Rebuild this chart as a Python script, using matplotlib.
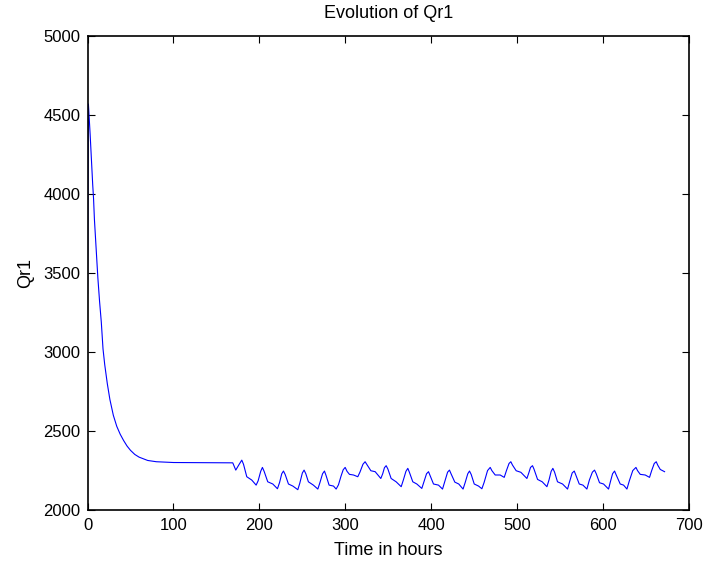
import numpy as np
import matplotlib
matplotlib.use('Agg')
import matplotlib.pyplot as plt

plt.rcParams['font.family'] = ['Liberation Sans', 'DejaVu Sans']

# start-up transient (first week)
t_start = [0, 1, 2, 3, 4, 5, 6, 7, 8, 10, 12, 14, 16, 18, 20, 23, 26, 30, 34, 38,
           42, 46, 50, 55, 60, 70, 80, 100, 130, 169]
q_start = [3370, 4570, 4480, 4380, 4270, 4160, 4060, 3970, 3840, 3650, 3470, 3320,
           3190, 3020, 2920, 2800, 2700, 2600, 2530, 2480, 2440, 2405, 2378, 2352,
           2335, 2314, 2306, 2301, 2300, 2299]

# daily oscillations (weeks 2 to 4)
t_osc = [172.5, 176.5, 179.5, 181.5, 185.3, 191.1, 196.2, 198.5, 201.5, 203.5, 205.5,
         209.7, 215.6, 221.0, 223.5, 226.0, 228.0, 230.0, 233.8, 238.9, 244.7, 247.0,
         250.0, 252.0, 254.0, 257.0, 262.8, 268.0, 270.5, 273.5, 275.7, 277.5, 281.1,
         286.2, 289.3, 292.0, 295.0, 297.5, 299.8, 302.0, 304.8, 309.5, 314.5, 317.0,
         320.5, 323.0, 325.5, 329.7, 334.7, 341.3, 343.5, 345.5, 347.5, 349.5, 353.3,
         359.1, 365.0, 367.5, 370.5, 372.7, 374.5, 378.5, 383.2, 389.0, 391.5, 394.5,
         396.8, 398.5, 402.6, 408.4, 413.1, 416.0, 419.0, 421.2, 423.0, 427.4, 432.0,
         437.0, 439.5, 442.5, 444.5, 446.5, 450.0, 455.0, 458.9, 461.5, 465.5, 468.6,
         470.5, 474.4, 480.2, 484.9, 487.5, 490.5, 492.6, 494.5, 498.8, 504.3, 511.3,
         513.5, 515.5, 517.8, 519.5, 523.7, 529.1, 534.6, 537.0, 539.5, 541.5, 543.5,
         546.9, 552.8, 558.6, 561.0, 564.0, 566.4, 568.0, 572.2, 576.5, 581.1, 584.0,
         587.5, 590.0, 592.0, 595.8, 600.5, 606.3, 608.5, 611.0, 613.3, 615.0, 619.9,
         623.8, 627.7, 630.5, 634.5, 638.2, 640.0, 643.2, 649.0, 654.0, 656.5, 659.5,
         661.8, 663.5, 666.5, 671.5]
q_osc = [2253, 2290, 2316, 2290, 2211, 2190, 2158, 2185, 2245, 2270, 2245,
         2179, 2165, 2135, 2175, 2230, 2247, 2225, 2165, 2152, 2129, 2170,
         2235, 2253, 2230, 2179, 2158, 2133, 2175, 2230, 2247, 2220, 2158,
         2152, 2133, 2160, 2215, 2255, 2270, 2245, 2226, 2222, 2211, 2240,
         2290, 2306, 2285, 2249, 2243, 2200, 2230, 2268, 2281, 2260, 2200,
         2179, 2148, 2190, 2245, 2264, 2240, 2179, 2165, 2137, 2180, 2230,
         2243, 2220, 2165, 2158, 2133, 2185, 2240, 2253, 2230, 2177, 2165,
         2133, 2175, 2230, 2247, 2225, 2165, 2152, 2135, 2175, 2250, 2270,
         2250, 2222, 2222, 2207, 2250, 2295, 2306, 2285, 2249, 2239, 2200,
         2235, 2270, 2281, 2260, 2194, 2179, 2148, 2190, 2245, 2264, 2240,
         2179, 2165, 2133, 2180, 2235, 2247, 2225, 2165, 2158, 2133, 2190,
         2240, 2253, 2230, 2173, 2165, 2133, 2180, 2230, 2247, 2225, 2165,
         2158, 2133, 2185, 2250, 2270, 2250, 2226, 2222, 2207, 2250, 2295,
         2306, 2285, 2257, 2243]

t = np.array(t_start + t_osc)
q = np.array(q_start + q_osc)

fig = plt.figure(figsize=(7.06, 5.63), dpi=100)
ax = fig.add_axes([0.124, 0.094, 0.852, 0.842])
ax.plot(t, q, color='#0000ff', linewidth=0.8)

ax.set_xlim(0, 700)
ax.set_ylim(2000, 5000)
ax.set_xticks(range(0, 701, 100))
ax.set_yticks(range(2000, 5001, 500))
ax.tick_params(direction='in', length=5, width=0.8, labelsize=12,
               top=True, right=True, pad=5)
ax.tick_params(axis='x', pad=6)
for s in ax.spines.values():
    s.set_linewidth(1.2)

ax.set_title('Evolution of Qr1', fontsize=13, pad=13)
ax.set_xlabel('Time in hours', fontsize=13, labelpad=6)
ax.set_ylabel('Qr1', fontsize=13, labelpad=7)

fig.savefig('out.png', dpi=100)
